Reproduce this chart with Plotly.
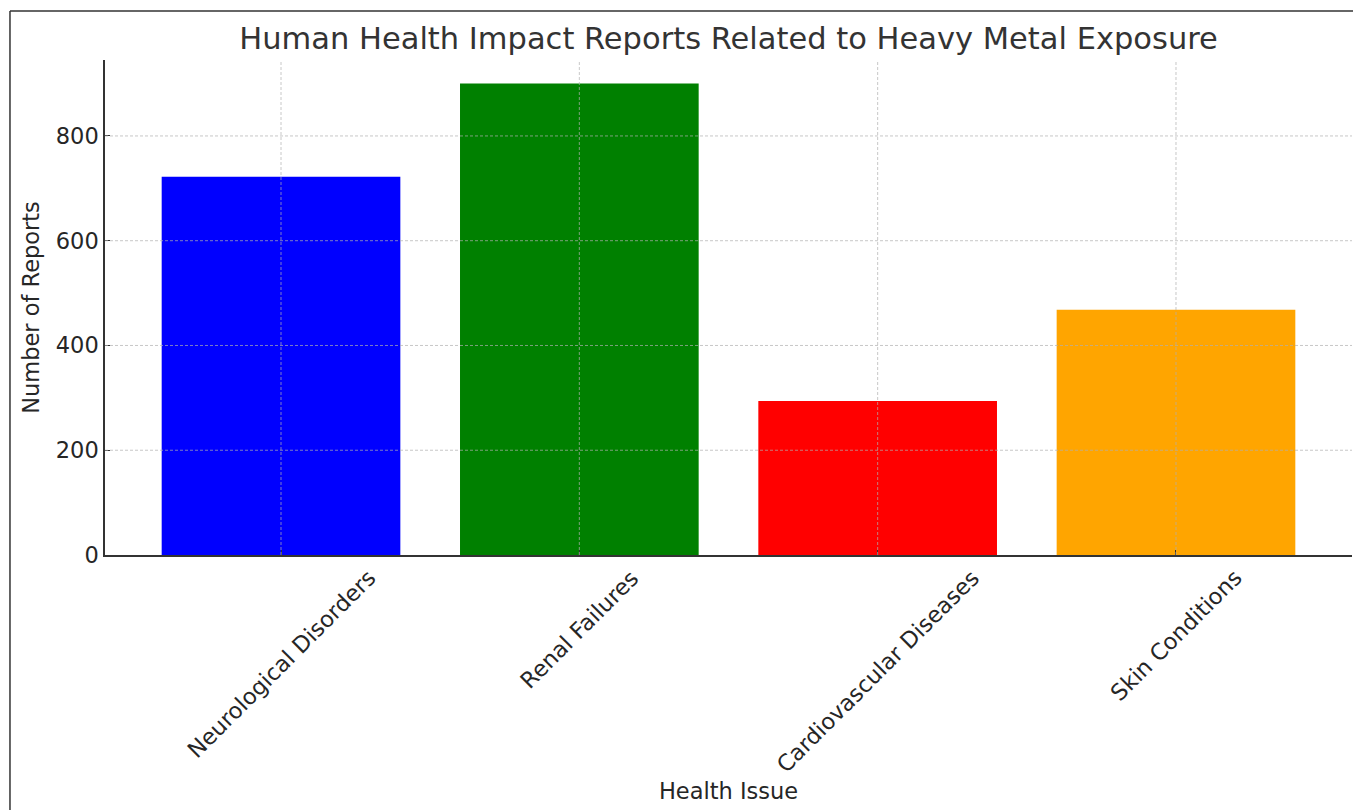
import plotly.graph_objects as go

categories = ["Neurological Disorders", "Renal Failures", "Cardiovascular Diseases", "Skin Conditions"]
reports = [722, 900, 294, 468]
bar_colors = ["#0000ff", "#008000", "#ff0000", "#ffa500"]
y_ticks = [0, 200, 400, 600, 800]

FONT = "DejaVu Sans"
TXT = "#262626"
FS = 22.5

fig = go.Figure(go.Bar(x=categories, y=reports, marker=dict(color=bar_colors, line=dict(width=0)),
                       width=0.8, showlegend=False))

shapes = []
grid_style = dict(color="rgba(176,176,176,0.7)", width=1, dash="3px,2px")
for c in categories:
    shapes.append(dict(type="line", xref="x", yref="paper", x0=c, x1=c, y0=0, y1=1,
                       line=grid_style, layer="above"))
for t in y_ticks[1:]:
    shapes.append(dict(type="line", xref="paper", yref="y", x0=0, x1=1, y0=t, y1=t,
                       line=grid_style, layer="above"))
# outer frame (top and left edges)
frame = dict(color="#333333", width=1.5)
shapes.append(dict(type="line", xref="paper", yref="paper", x0=-0.0762, x1=1.01, y0=1.099, y1=1.099, line=frame))
shapes.append(dict(type="line", xref="paper", yref="paper", x0=-0.0762, x1=-0.0762, y0=-0.52, y1=1.099, line=frame))

annotations = []
for c in categories:
    annotations.append(dict(text=c, xref="x", yref="paper", x=c, y=-0.016, xanchor="center", yanchor="top",
                            textangle=-45, showarrow=False, borderpad=0,
                            font=dict(family=FONT, size=FS, color=TXT)))

fig.update_layout(
    width=1353, height=810,
    margin=dict(l=105, r=1, t=60, b=255, autoexpand=False),
    paper_bgcolor="white", plot_bgcolor="white",
    font=dict(family=FONT, size=FS, color=TXT),
    title=dict(text="Human Health Impact Reports Related to Heavy Metal Exposure",
               font=dict(family=FONT, size=30.5, color="#333333"),
               x=0.5385, xanchor="center", xref="container", y=0.953, yref="container", yanchor="middle"),
    xaxis=dict(range=[-0.59, 3.59], showgrid=False, showline=True, linecolor="#333333", linewidth=1.5,
               ticks="inside", ticklen=5, tickcolor="#333333", showticklabels=False,
               title=dict(text="Health Issue", standoff=227, font=dict(family=FONT, size=FS, color=TXT)),
               layer="above traces", automargin=False, zeroline=False),
    yaxis=dict(range=[0, 945], tickvals=y_ticks, showgrid=False, showline=True, linecolor="#333333", linewidth=1.5,
               ticks="inside", ticklen=5, tickcolor="#333333",
               tickfont=dict(family=FONT, size=FS, color=TXT),
               title=dict(text="Number of Reports", standoff=10, font=dict(family=FONT, size=FS, color=TXT)),
               layer="above traces", automargin=False, zeroline=False),
    shapes=shapes, annotations=annotations,
)

fig.write_html("out.html")
